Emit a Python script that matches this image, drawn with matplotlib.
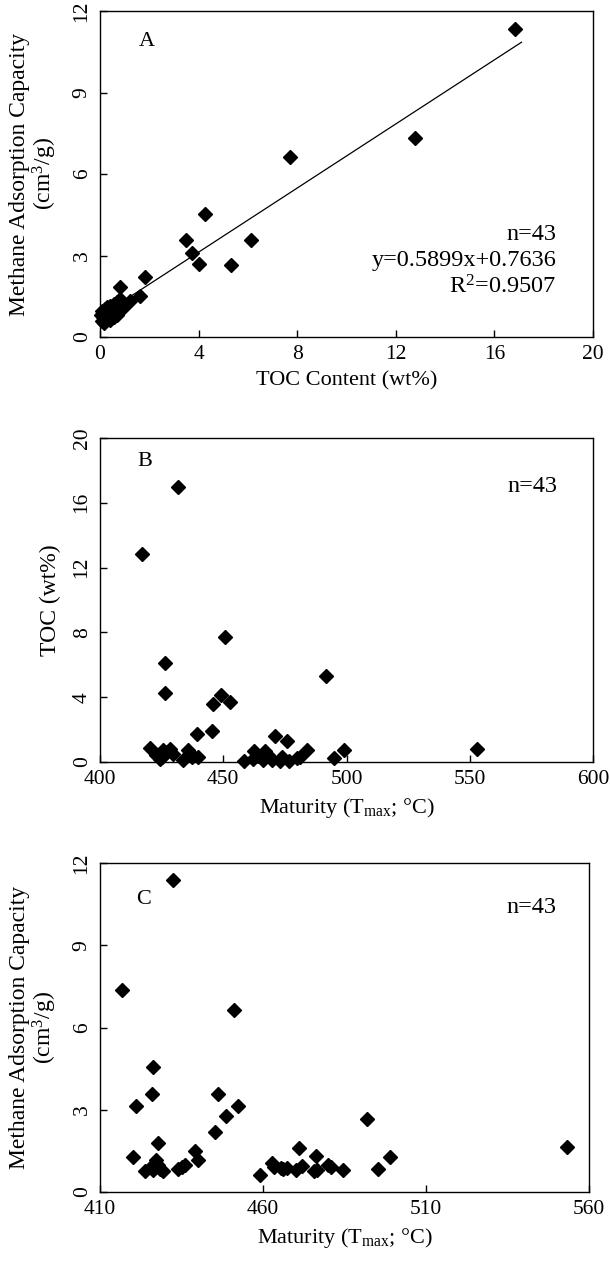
import numpy as np
import matplotlib
matplotlib.use('Agg')
import matplotlib.pyplot as plt

plt.rcParams['font.family'] = ['Liberation Serif', 'DejaVu Serif']
plt.rcParams['mathtext.fontset'] = 'custom'
plt.rcParams['mathtext.rm'] = 'Liberation Serif'
plt.rcParams['mathtext.default'] = 'regular'

# Panel A: TOC vs methane adsorption capacity
toc_a = [16.85, 12.78, 7.70, 4.24, 3.50, 6.13, 3.72, 4.01, 5.30, 1.83, 0.81, 1.61, 1.23,
         0.05, 0.08, 0.10, 0.12, 0.15, 0.18, 0.20, 0.22, 0.25, 0.28, 0.30, 0.32, 0.35, 0.38, 0.40,
         0.42, 0.45, 0.48, 0.50, 0.55, 0.58, 0.60, 0.65, 0.68, 0.70, 0.72, 0.78, 0.82, 0.88, 0.95]
mac_a = [11.32, 7.34, 6.63, 4.52, 3.58, 3.58, 3.09, 2.68, 2.66, 2.21, 1.84, 1.52, 1.31,
         0.80, 0.95, 0.60, 0.72, 0.50, 0.85, 1.02, 0.65, 0.78, 0.90, 1.10, 0.70, 0.85, 1.00, 0.62,
         1.15, 0.80, 0.92, 1.05, 0.75, 1.20, 0.88, 1.00, 1.30, 0.82, 1.10, 0.95, 1.40, 1.20, 1.05]
slope, intercept = 0.5899, 0.7636

# Panel B: Tmax vs TOC
tmax_b = [431.8, 417.0, 450.6, 426.4, 426.4, 491.6, 449.2, 452.6, 445.7, 445.6, 439.2, 471.0, 476.0, 552.9, 420.3,
          422.6, 425.7, 428.4, 429.8, 425.0, 433.8, 435.9, 437.2, 439.9, 427.0, 424.5,
          458.5, 462.2, 466.3, 469.7, 473.0, 476.5, 480.0, 462.5, 467.0, 483.9, 481.2, 495.0, 498.8,
          464.0, 468.0, 474.0, 437.0]
toc_b = [16.97, 12.87, 7.73, 6.14, 4.29, 5.30, 4.12, 3.71, 3.57, 1.92, 1.72, 1.59, 1.28, 0.82, 0.87,
         0.41, 0.72, 0.82, 0.52, 0.31, 0.10, 0.72, 0.31, 0.31, 0.60, 0.20,
         0.05, 0.20, 0.15, 0.10, 0.05, 0.05, 0.25, 0.66, 0.66, 0.72, 0.31, 0.27, 0.72,
         0.35, 0.45, 0.30, 0.50]

# Panel C: Tmax vs methane adsorption capacity
tmax_c = [432.3, 416.7, 451.1, 426.2, 426.1, 446.1, 421.1, 452.2, 448.8, 445.2, 491.8, 427.9, 553.1, 420.1,
          439.1, 440.2, 471.0, 476.3, 498.9, 495.2,
          427.1, 423.8, 426.4, 429.4, 427.9, 434.0, 436.1, 459.1, 462.7, 465.4, 467.3, 472.1, 476.5,
          480.0, 484.4, 463.5, 481.0,
          425.5, 428.5, 435.0, 466.0, 470.0, 475.5]
mac_c = [11.38, 7.37, 6.65, 4.55, 3.57, 3.57, 3.12, 3.12, 2.76, 2.20, 2.65, 1.80, 1.65, 1.27,
         1.51, 1.16, 1.59, 1.33, 1.27, 0.85,
         1.18, 0.76, 0.82, 0.76, 1.00, 0.84, 1.00, 0.63, 1.06, 0.88, 0.88, 0.94, 0.82,
         1.00, 0.82, 0.90, 0.92,
         0.90, 0.85, 0.90, 0.85, 0.80, 0.78]

mac_label = 'Methane Adsorption Capacity\n(cm$^3$/g)'
tmax_label = 'Maturity (T$_{max}$; °C)'

W, H = 610, 1269
fig = plt.figure(figsize=(W / 100, H / 100), dpi=100)


def make_axes(left, top, right, bottom):
    return fig.add_axes([left / W, 1 - bottom / H, (right - left) / W, (bottom - top) / H])


def style(ax, xticks, yticks):
    ax.set_xlim(xticks[0], xticks[-1])
    ax.set_ylim(yticks[0], yticks[-1])
    ax.set_xticks(xticks)
    ax.set_yticks(yticks)
    ax.tick_params(direction='in', length=5, width=1, labelsize=15.5, pad=6)
    for lab in ax.get_yticklabels():
        lab.set_rotation(90)
        lab.set_va('center')
    for s in ax.spines.values():
        s.set_linewidth(1.0)


def diamonds(ax, x, y):
    ax.plot(x, y, linestyle='none', marker='D', markersize=6.8, color='black', clip_on=False, zorder=3)


# --- A ---
ax1 = make_axes(100, 11, 593, 337)
xl = np.linspace(0, 17.1, 50)
ax1.plot(xl, slope * xl + intercept, color='black', linewidth=0.9, zorder=2)
diamonds(ax1, toc_a, mac_a)
style(ax1, [0, 4, 8, 12, 16, 20], [0, 3, 6, 9, 12])
ax1.set_xlabel('TOC Content (wt%)', fontsize=16, labelpad=5)
ax1.set_ylabel(mac_label, fontsize=17, linespacing=1.05)
ax1.yaxis.set_label_coords(-0.083, 0.5)
ax1.text(0.095, 0.906, 'A', transform=ax1.transAxes, fontsize=16, va='center', ha='center')
ax1.text(0.926, 0.313, 'n=43', transform=ax1.transAxes, fontsize=17.5, ha='right', va='center')
ax1.text(0.926, 0.236, 'y=0.5899x+0.7636', transform=ax1.transAxes, fontsize=17.5, ha='right', va='center')
ax1.text(0.926, 0.154, 'R$^2$=0.9507', transform=ax1.transAxes, fontsize=17.5, ha='right', va='center')

# --- B ---
ax2 = make_axes(100, 438, 593, 762)
diamonds(ax2, tmax_b, toc_b)
style(ax2, [400, 450, 500, 550, 600], [0, 4, 8, 12, 16, 20])
ax2.set_xlabel(tmax_label, fontsize=16, labelpad=5)
ax2.set_ylabel('TOC (wt%)', fontsize=17)
ax2.yaxis.set_label_coords(-0.08, 0.5)
ax2.text(0.09, 0.928, 'B', transform=ax2.transAxes, fontsize=16, va='center', ha='center')
ax2.text(0.927, 0.85, 'n=43', transform=ax2.transAxes, fontsize=17.5, ha='right', va='center')

# --- C ---
ax3 = make_axes(100, 863, 589, 1192)
diamonds(ax3, tmax_c, mac_c)
style(ax3, [410, 460, 510, 560], [0, 3, 6, 9, 12])
ax3.set_xlabel(tmax_label, fontsize=16, labelpad=5)
ax3.set_ylabel(mac_label, fontsize=17, linespacing=1.05)
ax3.yaxis.set_label_coords(-0.083, 0.5)
ax3.text(0.09, 0.89, 'C', transform=ax3.transAxes, fontsize=16, va='center', ha='center')
ax3.text(0.934, 0.865, 'n=43', transform=ax3.transAxes, fontsize=17.5, ha='right', va='center')

fig.savefig('out.png', dpi=100)
